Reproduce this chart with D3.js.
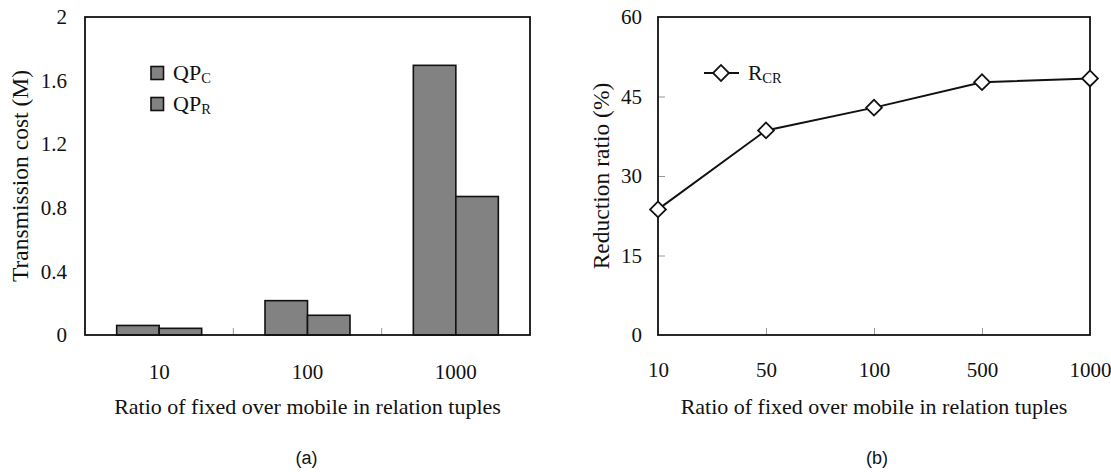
<!DOCTYPE html>
<html>
<head>
<meta charset="utf-8">
<script src="https://cdn.jsdelivr.net/npm/d3@7"></script>
<style>
  html, body { margin: 0; padding: 0; background: #fff; }
  svg { display: block; }
  .serif { font-family: "Liberation Serif", "Times New Roman", serif; fill: #111; }
  .sans { font-family: "Liberation Sans", Arial, sans-serif; fill: #111; }
</style>
</head>
<body>
<svg id="chart" width="1111" height="472"></svg>
<script>
// ---- Data ----
const barCategories = ["10", "100", "1000"];
const barSeries = ["QP_C", "QP_R"];
const qpC = [0.06, 0.216, 1.696];
const qpR = [0.042, 0.124, 0.871];
const barYTicks = [0, 0.4, 0.8, 1.2, 1.6, 2];
const barYTickLabels = ["0", "0.4", "0.8", "1.2", "1.6", "2"];

const lineCategories = ["10", "50", "100", "500", "1000"];
const rcr = [23.7, 38.6, 42.9, 47.7, 48.4];
const lineYTicks = [0, 15, 30, 45, 60];

const xTitle = "Ratio of fixed over mobile in relation tuples";

(function () {
const svg = d3.select("#chart");
const plotTop = 17, plotBottom = 335;
const tickFont = "21px", titleFont = "22px", yTitleFont = "23.5px";

// ===== Panel (a) =====
const aL = 85, aR = 530;
const xa = d3.scaleBand().domain(barCategories).range([aL, aR]).paddingInner(0.427).paddingOuter(0.2135);
const xaInner = d3.scaleBand().domain(barSeries).range([0, xa.bandwidth()]);
const ya = d3.scaleLinear().domain([0, 2]).range([plotBottom, plotTop]);

const gA = svg.append("g");
const barRows = barCategories.map((c, i) => ({cat: c, vals: [{s: "QP_C", v: qpC[i]}, {s: "QP_R", v: qpR[i]}]}));
gA.selectAll("g.grp").data(barRows).join("g")
  .attr("transform", d => `translate(${xa(d.cat)},0)`)
  .selectAll("rect").data(d => d.vals).join("rect")
  .attr("x", d => xaInner(d.s))
  .attr("width", xaInner.bandwidth())
  .attr("y", d => ya(d.v))
  .attr("height", d => ya(0) - ya(d.v))
  .attr("fill", "#828282").attr("stroke", "#111").attr("stroke-width", 1.6);

const seps = barCategories.slice(1).map(c => xa(c) - xa.step() * xa.paddingInner() / 2);
gA.selectAll("line.sep").data(seps).join("line")
  .attr("x1", d => d).attr("x2", d => d).attr("y1", plotBottom).attr("y2", plotBottom - 7)
  .attr("stroke", "#999").attr("stroke-width", 1);

const yAxisA = gA.append("g").attr("transform", `translate(${aL},0)`)
  .call(d3.axisLeft(ya).tickValues(barYTicks).tickFormat((d, i) => barYTickLabels[i]).tickSize(0).tickPadding(18));
yAxisA.select(".domain").remove();
yAxisA.selectAll("text").attr("class", "serif").style("font-size", tickFont);

const xAxisA = gA.append("g").attr("transform", `translate(0,${plotBottom})`)
  .call(d3.axisBottom(xa).tickSize(0).tickPadding(29));
xAxisA.select(".domain").remove();
xAxisA.selectAll("text").attr("class", "serif").style("font-size", tickFont);

gA.append("rect").attr("x", aL).attr("y", plotTop).attr("width", aR - aL).attr("height", plotBottom - plotTop)
  .attr("fill", "none").attr("stroke", "#111").attr("stroke-width", 1.8);

gA.append("text").attr("class", "serif").attr("text-anchor", "middle")
  .attr("transform", `translate(28,${(plotTop + plotBottom) / 2}) rotate(-90)`)
  .style("font-size", yTitleFont).text("Transmission cost (M)");
gA.append("text").attr("class", "serif").attr("text-anchor", "middle")
  .attr("x", (aL + aR) / 2).attr("y", 414).style("font-size", titleFont).text(xTitle);
gA.append("text").attr("class", "sans").attr("text-anchor", "middle")
  .attr("x", (aL + aR) / 2 - 1).attr("y", 464).style("font-size", "18px").text("(a)");

const legA = [{s: "QP", sub: "C", y: 73}, {s: "QP", sub: "R", y: 104}];
legA.forEach(d => {
  gA.append("rect").attr("x", 151).attr("y", d.y - 6.5).attr("width", 12.5).attr("height", 13)
    .attr("fill", "#828282").attr("stroke", "#111").attr("stroke-width", 1.6);
  const t = gA.append("text").attr("class", "serif").attr("x", 173).attr("y", d.y + 7).style("font-size", "22px");
  t.append("tspan").text(d.s);
  t.append("tspan").attr("dy", 3).style("font-size", "14.5px").text(d.sub);
});

// ===== Panel (b) =====
const bL = 658, bR = 1090;
const xb = d3.scalePoint().domain(lineCategories).range([bL, bR]).padding(0);
const yb = d3.scaleLinear().domain([0, 60]).range([plotBottom, plotTop]);
const gB = svg.append("g");

const yAxisB = gB.append("g").attr("transform", `translate(${bL},0)`)
  .call(d3.axisLeft(yb).tickValues(lineYTicks).tickSizeInner(-7).tickSizeOuter(0).tickPadding(16));
yAxisB.select(".domain").remove();
yAxisB.selectAll("line").attr("stroke", "#999").filter(d => d === 0 || d === 60).remove();
yAxisB.selectAll("text").attr("class", "serif").style("font-size", tickFont);

const xAxisB = gB.append("g").attr("transform", `translate(0,${plotBottom})`)
  .call(d3.axisBottom(xb).tickSizeInner(-7).tickSizeOuter(0).tickPadding(27));
xAxisB.select(".domain").remove();
xAxisB.selectAll("line").attr("stroke", "#999").filter(d => d === "10" || d === "1000").remove();
xAxisB.selectAll("text").attr("class", "serif").style("font-size", tickFont);

gB.append("rect").attr("x", bL).attr("y", plotTop).attr("width", bR - bL).attr("height", plotBottom - plotTop)
  .attr("fill", "none").attr("stroke", "#111").attr("stroke-width", 1.8);

const pts = lineCategories.map((c, i) => ({c, v: rcr[i]}));
gB.append("path").datum(pts)
  .attr("d", d3.line().x(d => xb(d.c)).y(d => yb(d.v)))
  .attr("fill", "none").attr("stroke", "#111").attr("stroke-width", 2);
const diamond = d3.symbol(d3.symbolSquare, 125);
gB.selectAll("path.mk").data(pts).join("path")
  .attr("d", diamond)
  .attr("transform", d => `translate(${xb(d.c)},${yb(d.v)}) rotate(45)`)
  .attr("fill", "#fff").attr("stroke", "#111").attr("stroke-width", 1.8);

gB.append("line").attr("x1", 704).attr("x2", 739).attr("y1", 73).attr("y2", 73)
  .attr("stroke", "#111").attr("stroke-width", 2);
gB.append("path").attr("d", diamond).attr("transform", "translate(721,73) rotate(45)")
  .attr("fill", "#fff").attr("stroke", "#111").attr("stroke-width", 1.8);
const tb = gB.append("text").attr("class", "serif").attr("x", 748).attr("y", 80).style("font-size", "21.5px");
tb.append("tspan").text("R");
tb.append("tspan").attr("dy", 3).style("font-size", "14.5px").text("CR");

gB.append("text").attr("class", "serif").attr("text-anchor", "middle")
  .attr("transform", `translate(609,${(plotTop + plotBottom) / 2}) rotate(-90)`)
  .style("font-size", yTitleFont).text("Reduction ratio (%)");
gB.append("text").attr("class", "serif").attr("text-anchor", "middle")
  .attr("x", (bL + bR) / 2).attr("y", 414).style("font-size", titleFont).text(xTitle);
gB.append("text").attr("class", "sans").attr("text-anchor", "middle")
  .attr("x", (bL + bR) / 2 + 3).attr("y", 464).style("font-size", "18px").text("(b)");
})();
</script>
</body>
</html>
